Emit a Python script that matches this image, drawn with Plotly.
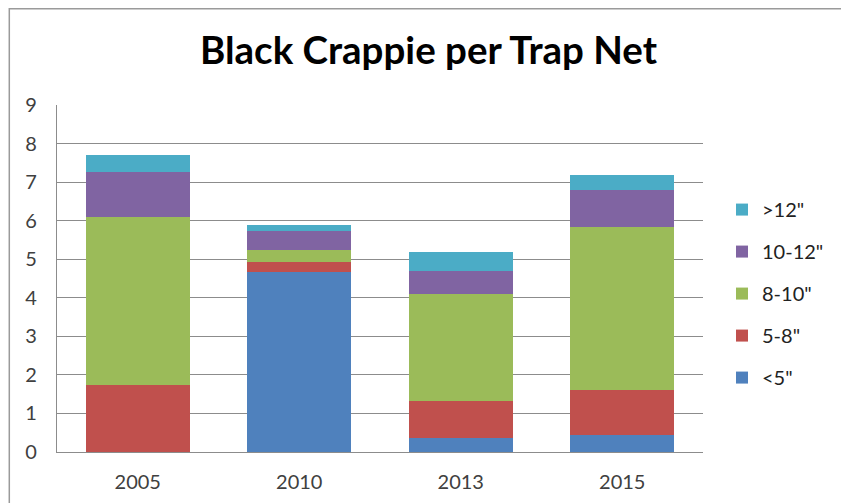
import plotly.graph_objects as go

years = ["2005", "2010", "2013", "2015"]
series_names = ['<5"', '5-8"', '8-10"', '10-12"', '>12"']
lt5 = [0.0, 4.66, 0.37, 0.43]
s5_8 = [1.73, 0.26, 0.95, 1.19]
s8_10 = [4.37, 0.32, 2.79, 4.21]
s10_12 = [1.17, 0.50, 0.58, 0.96]
gt12 = [0.43, 0.14, 0.50, 0.39]
y_ticks = [0, 1, 2, 3, 4, 5, 6, 7, 8, 9]

colors = ["#4F81BD", "#C0504D", "#9BBB59", "#8064A2", "#4BACC6"]
values = [lt5, s5_8, s8_10, s10_12, gt12]

FONT = "Lato, Open Sans, sans-serif"

fig = go.Figure()
for i, (name, vals, col) in enumerate(zip(series_names, values, colors)):
    fig.add_trace(go.Bar(
        x=years, y=vals, name=name, legendgroup=name,
        legendrank=1000 - i,
        marker=dict(color=col, line=dict(width=0)),
    ))

# page body has an 8px margin; figure coords = screen coords - 8
OFF = 8
W, H = 849 - OFF, 503 - OFF
L = 57 - OFF
T = 105 - OFF
R = W - (703 - OFF)
B = H - (451.7 - OFF)
pw = W - L - R
ph = H - T - B

def px_x(sx):
    return (sx - OFF - L) / pw

def px_y(sy):
    return (H - B - (sy - OFF)) / ph

fig.update_layout(
    width=W, height=H,
    barmode="stack",
    bargap=0.355,
    plot_bgcolor="white",
    paper_bgcolor="white",
    margin=dict(l=L, r=R, t=T, b=B, autoexpand=False),
    title=dict(
        text="<b>Black Crappie per Trap Net</b>",
        x=(428.5 - OFF) / W, xref="container", xanchor="center",
        y=1 - (51 - OFF) / H, yref="container", yanchor="middle",
        font=dict(family=FONT, size=38.5, color="#000000"),
    ),
    font=dict(family=FONT, size=20, color="#404040"),
    legend=dict(
        traceorder="grouped",
        tracegroupgap=13,
        x=px_x(722), xanchor="left",
        y=px_y(190), yanchor="top",
        font=dict(family=FONT, size=20, color="#222222"),
        itemwidth=30,
        bgcolor="rgba(0,0,0,0)",
    ),
    xaxis=dict(
        showgrid=False,
        showline=True, linecolor="#8c8c8c", linewidth=1.3,
        ticks="", ticklabelstandoff=12,
        tickfont=dict(family=FONT, size=20, color="#404040"),
    ),
    yaxis=dict(
        range=[0, 9], tickvals=y_ticks,
        showgrid=True, gridcolor="#8c8c8c", gridwidth=1.3,
        showline=True, linecolor="#8c8c8c", linewidth=1.3,
        zeroline=False,
        ticks="", ticklabelstandoff=15,
        tickfont=dict(family=FONT, size=20, color="#404040"),
    ),
)

# outer chart frame (extends below the visible window)
fig.add_shape(
    type="rect", xref="paper", yref="paper",
    x0=px_x(9.3), x1=px_x(846.7),
    y0=px_y(520), y1=px_y(8.8),
    line=dict(color="#9a9a9a", width=1.5),
    fillcolor="rgba(0,0,0,0)", layer="below",
)

fig.write_html("out.html")
